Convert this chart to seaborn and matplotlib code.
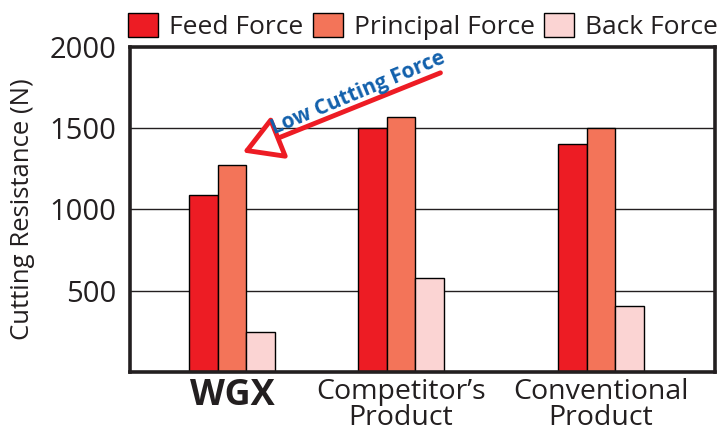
import pandas as pd
import numpy as np
import matplotlib.pyplot as plt
import seaborn as sns
from matplotlib.patches import FancyArrowPatch

# data
products = ["WGX", "Competitor\u2019s\nProduct", "Conventional\nProduct"]
positions = [0.0, 1.0, 2.183]          # groups are not evenly spaced in the original
forces = ["Feed Force", "Principal Force", "Back Force"]
feed_force = [1090, 1500, 1400]
principal_force = [1270, 1570, 1500]
back_force = [245, 575, 405]
colors = ["#ED1C24", "#F37459", "#FBD4D3"]
yticks = [500, 1000, 1500, 2000]

rows = []
for i, p in enumerate(products):
    for f, vals in zip(forces, [feed_force, principal_force, back_force]):
        rows.append({"product": p, "pos": positions[i], "force": f, "value": vals[i]})
df = pd.DataFrame(rows)

sns.set_style("white")
plt.rcParams["font.family"] = ["Open Sans", "DejaVu Sans"]

fig = plt.figure(figsize=(7.17, 4.33), dpi=100)
ax = fig.add_axes([0.1813, 0.141, 0.816, 0.751])

sns.barplot(data=df, x="pos", y="value", hue="force", hue_order=forces,
            palette=colors, native_scale=True, width=0.506,
            edgecolor="black", linewidth=1, saturation=1, ax=ax)

ax.set_ylim(0, 2000)
ax.set_xlim(-0.604, 2.858)
ax.set_yticks(yticks)
ax.set_yticklabels([str(t) for t in yticks], fontsize=21, color="#231f20")
for t in yticks[:-1]:
    ax.axhline(t, color="#231f20", lw=1, zorder=0)
ax.set_xticks(positions)
ax.set_xticklabels(products, fontsize=20.5, color="#231f20", linespacing=0.95)
ax.get_xticklabels()[0].set_fontweight("bold")
ax.get_xticklabels()[0].set_fontsize(26)
ax.tick_params(axis="both", length=0)
ax.tick_params(axis="y", pad=10)
ax.tick_params(axis="x", pad=4)
ax.set_xlabel("")
ax.set_ylabel("Cutting Resistance (N)", fontsize=18.5, color="#231f20", labelpad=10)
for s in ax.spines.values():
    s.set_linewidth(2.6)
    s.set_color("#231f20")

handles, labels = ax.get_legend_handles_labels()
ax.legend(handles, labels, loc="lower left", bbox_to_anchor=(-0.003, 1.02),
          ncol=3, frameon=False, fontsize=19, handlelength=1.14, handleheight=1.02,
          handletextpad=0.42, columnspacing=0.34, borderaxespad=0, borderpad=0,
          labelcolor="#231f20")

# "Low Cutting Force" callout
arrow = FancyArrowPatch((0.535, 0.923), (0.188, 0.672), transform=ax.transAxes,
                        arrowstyle="-|>,head_length=1.2,head_width=0.7",
                        mutation_scale=20, lw=3.5, edgecolor="#ED1C24",
                        facecolor="white", joinstyle="round", zorder=5)
ax.add_patch(arrow)
ax.text(0.39, 0.856, "Low Cutting Force", transform=ax.transAxes, rotation=22.7,
        rotation_mode="anchor", ha="center", va="center", fontsize=15,
        fontweight="bold", color="#1260AC", zorder=6)

fig.savefig("out.png", dpi=100)
